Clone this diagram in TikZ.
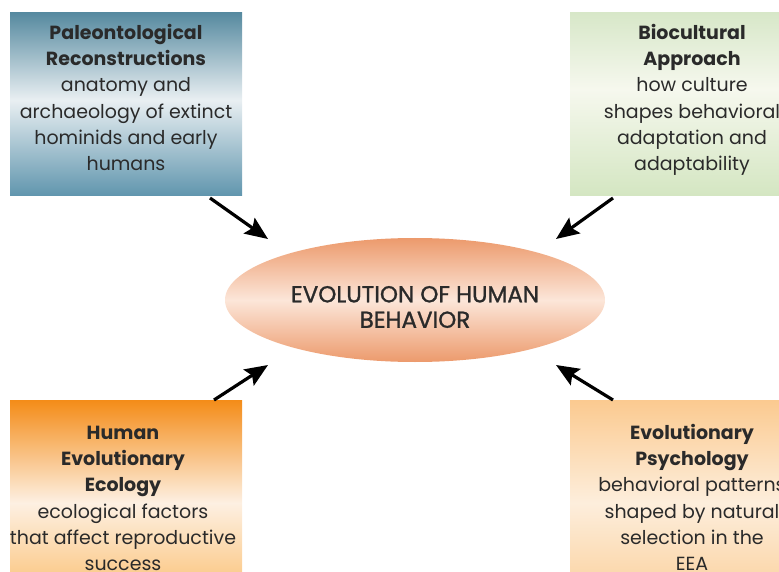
\documentclass[tikz,border=0pt]{standalone}
\usepackage{fontspec}
\setmainfont{Poppins}
\newfontfamily\evofont[FakeBold=1.2]{Poppins}
\usetikzlibrary{arrows.meta,shapes.geometric}
\definecolor{txt}{HTML}{2A2A2A}
\definecolor{tlT}{HTML}{55899F}
\definecolor{tlM}{HTML}{E9EFF2}
\definecolor{tlB}{HTML}{6196AE}
\definecolor{trT}{HTML}{D7E7C8}
\definecolor{trM}{HTML}{F6F8EE}
\definecolor{trB}{HTML}{D4E6C2}
\definecolor{blT}{HTML}{F48C18}
\definecolor{blM}{HTML}{FDF0E2}
\definecolor{blB}{HTML}{FBC47C}
\definecolor{brT}{HTML}{FBCA90}
\definecolor{brM}{HTML}{FDEEDC}
\definecolor{brB}{HTML}{FBD3A2}
\definecolor{elE}{HTML}{EC9A6C}
\definecolor{elM}{HTML}{FCE6D9}
\pgfdeclareverticalshading{tlshade}{100bp}{color(0bp)=(tlB); color(25bp)=(tlB); color(51bp)=(tlM); color(75bp)=(tlT); color(100bp)=(tlT)}
\pgfdeclareverticalshading{trshade}{100bp}{color(0bp)=(trB); color(25bp)=(trB); color(54bp)=(trM); color(75bp)=(trT); color(100bp)=(trT)}
\pgfdeclareverticalshading{blshade}{100bp}{color(0bp)=(blB); color(25bp)=(blB); color(48bp)=(blM); color(75bp)=(blT); color(100bp)=(blT)}
\pgfdeclareverticalshading{brshade}{100bp}{color(0bp)=(brB); color(25bp)=(brB); color(48bp)=(brM); color(75bp)=(brT); color(100bp)=(brT)}
\pgfdeclareverticalshading{elshade}{100bp}{color(0bp)=(elE); color(25bp)=(elE); color(50bp)=(elM); color(75bp)=(elE); color(100bp)=(elE)}
\begin{document}
\begin{tikzpicture}[x=1pt,y=-1pt,
  panel/.style={draw=none,rectangle,inner sep=0pt,anchor=north west},
  paneltext/.style={align=center,text=txt,font=\fontsize{19}{26.2}\selectfont,inner sep=0pt,anchor=north},
  flow/.style={line width=3.2pt,-{Stealth[length=23pt,width=19pt,inset=4pt]}}]
\useasboundingbox (0,0) rectangle (779,572);
\begin{scope}
\clip (0,0) rectangle (779,572);
\node[panel,minimum width=232pt,minimum height=183pt,shading=tlshade] (tl) at (10,12) {};
\node[panel,minimum width=245pt,minimum height=183pt,shading=trshade] (tr) at (570,12) {};
\node[panel,minimum width=232pt,minimum height=190pt,shading=blshade] (bl) at (10,400) {};
\node[panel,minimum width=245pt,minimum height=190pt,shading=brshade] (br) at (570,400) {};
\node[paneltext] (bltx) at (123,426) {{\bfseries Human}\\{\bfseries Evolutionary}\\{\bfseries Ecology}\\ecological factors\\that affect reproductive\\success};
\node[paneltext] (brtx) at (692,424) {{\bfseries Evolutionary}\\{\bfseries Psychology}\\behavioral patterns\\shaped by natural\\selection in the\\EEA};
\end{scope}
\node[paneltext] (tltx) at (126,24) {{\bfseries Paleontological}\\{\bfseries Reconstructions}\\anatomy and\\archaeology of extinct\\hominids and early\\humans};
\node[paneltext] (trtx) at (692,24) {{\bfseries Biocultural}\\{\bfseries Approach}\\how culture\\shapes behavioral\\adaptation and\\adaptability};
\node[ellipse,draw=none,shading=elshade,minimum width=380pt,minimum height=124pt,inner sep=0pt] (evo) at (415,300) {};
\node[align=center,text=txt,font=\evofont\fontsize{23}{25.5}\selectfont,inner sep=0pt] (evotx) at (415,307) {EVOLUTION OF HUMAN\\BEHAVIOR};
\coordinate (s1) at (210,198);
\coordinate (e1) at (268,239);
\coordinate (s2) at (613,198);
\coordinate (e2) at (556,239);
\coordinate (s3) at (214,400);
\coordinate (e3) at (268,365);
\coordinate (s4) at (613,400);
\coordinate (e4) at (556,365);
\draw[flow] (s1) -- (e1);
\draw[flow] (s2) -- (e2);
\draw[flow] (s3) -- (e3);
\draw[flow] (s4) -- (e4);
\end{tikzpicture}
\end{document}
